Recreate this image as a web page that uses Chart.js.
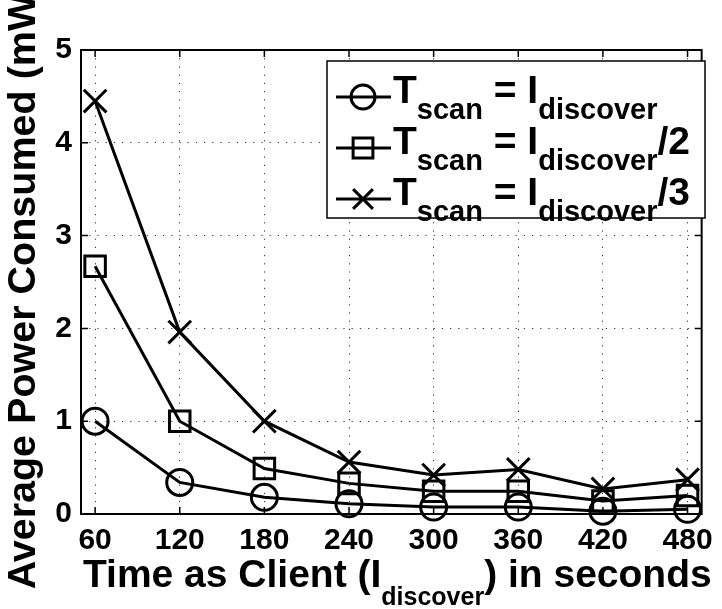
<!DOCTYPE html>
<html>
<head>
<meta charset="utf-8">
<script src="https://cdn.jsdelivr.net/npm/chart.js@4.4.1/dist/chart.umd.min.js"></script>
<style>
  html, body { margin: 0; padding: 0; background: #fff; }
  #wrap { width: 722px; height: 609px; position: relative; }
</style>
</head>
<body>
<div id="wrap"><canvas id="c" width="722" height="609"></canvas></div>
<script>
// ---- data ----
const categories = [60, 120, 180, 240, 300, 360, 420, 480];
const seriesFull  = [1.0, 0.34, 0.18, 0.11, 0.075, 0.075, 0.03, 0.05];
const seriesHalf  = [2.67, 1.0, 0.49, 0.33, 0.245, 0.245, 0.14, 0.2];
const seriesThird = [4.45, 1.96, 1.0, 0.56, 0.42, 0.48, 0.27, 0.37];
const seriesLabels = ['T_scan = I_discover', 'T_scan = I_discover/2', 'T_scan = I_discover/3'];
const yTicks = [0, 1, 2, 3, 4, 5];
const xTitle = 'Time as Client (I_discover) in seconds';
const yTitle = 'Average Power Consumed (mW)';

const FONT = '"Liberation Sans", Arial, Helvetica, sans-serif';

// parse strings where "_word" marks a subscript word
function parseParts(s) {
  const parts = [];
  const re = /_([A-Za-z]+)/g;
  let last = 0, m;
  while ((m = re.exec(s)) !== null) {
    if (m.index > last) parts.push({ t: s.slice(last, m.index), sub: false });
    parts.push({ t: m[1], sub: true });
    last = re.lastIndex;
  }
  if (last < s.length) parts.push({ t: s.slice(last), sub: false });
  return parts;
}
function drawRich(ctx, s, x, y, mainSize, subSize, subDrop, align) {
  const parts = parseParts(s);
  let total = 0;
  parts.forEach(p => {
    ctx.font = 'bold ' + (p.sub ? subSize : mainSize) + 'px ' + FONT;
    p.w = ctx.measureText(p.t).width;
    total += p.w;
  });
  let cx = align === 'center' ? x - total / 2 : x;
  ctx.textAlign = 'left';
  ctx.textBaseline = 'alphabetic';
  parts.forEach(p => {
    ctx.font = 'bold ' + (p.sub ? subSize : mainSize) + 'px ' + FONT;
    ctx.fillText(p.t, cx, p.sub ? y + subDrop : y);
    cx += p.w;
  });
}
function drawMarker(ctx, style, x, y, r) {
  ctx.beginPath();
  if (style === 'circle') {
    ctx.arc(x, y, r, 0, Math.PI * 2);
  } else if (style === 'rect') {
    const h = r * Math.SQRT1_2;
    ctx.rect(x - h, y - h, 2 * h, 2 * h);
  } else {
    const h = r * Math.SQRT1_2;
    ctx.moveTo(x - h, y - h); ctx.lineTo(x + h, y + h);
    ctx.moveTo(x - h, y + h); ctx.lineTo(x + h, y - h);
  }
  ctx.stroke();
}

const decor = {
  id: 'decor',
  afterDraw(chart) {
    const ctx = chart.ctx;
    const a = chart.chartArea;
    const xs = chart.scales.x, ys = chart.scales.y;
    ctx.save();
    ctx.strokeStyle = '#000';
    ctx.fillStyle = '#000';
    // axes box
    ctx.lineWidth = 2;
    ctx.strokeRect(a.left, a.top, a.right - a.left, a.bottom - a.top);
    // inward tick marks
    ctx.lineWidth = 1.5;
    ctx.beginPath();
    xs.ticks.forEach(t => {
      const px = xs.getPixelForValue(t.value);
      ctx.moveTo(px, a.bottom); ctx.lineTo(px, a.bottom - 7);
      ctx.moveTo(px, a.top); ctx.lineTo(px, a.top + 7);
    });
    ys.ticks.forEach(t => {
      const py = ys.getPixelForValue(t.value);
      ctx.moveTo(a.left, py); ctx.lineTo(a.left + 7, py);
      ctx.moveTo(a.right, py); ctx.lineTo(a.right - 7, py);
    });
    ctx.stroke();
    // x title
    drawRich(ctx, xTitle, (a.left + a.right) / 2 + 6, 587, 39, 25, 18, 'center');
    // y title (rotated)
    ctx.save();
    ctx.translate(35, (a.top + a.bottom) / 2 + 3);
    ctx.rotate(-Math.PI / 2);
    ctx.font = 'bold 39.5px ' + FONT;
    ctx.textAlign = 'center';
    ctx.textBaseline = 'alphabetic';
    ctx.fillText(yTitle, 0, 0);
    ctx.restore();
    // legend
    const lx = 327, ly = 61, lw = 378, lh = 157;
    ctx.fillStyle = '#fff';
    ctx.fillRect(lx, ly, lw, lh);
    ctx.lineWidth = 1.5;
    ctx.strokeStyle = '#000';
    ctx.strokeRect(lx, ly, lw, lh);
    ctx.fillStyle = '#000';
    chart.data.datasets.forEach((ds, i) => {
      const rowY = ly + 36 + i * 51;
      ctx.lineWidth = 3;
      ctx.beginPath();
      ctx.moveTo(lx + 9, rowY); ctx.lineTo(lx + 64, rowY);
      ctx.stroke();
      drawMarker(ctx, ds.pointStyle, lx + 36, rowY, ds.pointStyle === 'circle' ? 12 : 14);
      drawRich(ctx, ds.label, lx + 66, rowY + 6, 39, 29, 16, 'left');
    });
    ctx.restore();
  }
};

const common = {
  borderColor: '#000',
  backgroundColor: 'rgba(0,0,0,0)',
  borderWidth: 3,
  pointBorderWidth: 3,
  pointBorderColor: '#000',
  pointBackgroundColor: 'rgba(0,0,0,0)',
  tension: 0,
  clip: false
};

const gridOpts = { color: '#333', lineWidth: 1, drawTicks: false };
const borderOpts = { display: false, dash: [1.2, 7] };

new Chart(document.getElementById('c'), {
  type: 'line',
  data: {
    datasets: [
      Object.assign({ label: seriesLabels[0], data: categories.map((x, i) => ({ x, y: seriesFull[i] })), pointStyle: 'circle', pointRadius: 13 }, common),
      Object.assign({ label: seriesLabels[1], data: categories.map((x, i) => ({ x, y: seriesHalf[i] })), pointStyle: 'rect', pointRadius: 14.5 }, common),
      Object.assign({ label: seriesLabels[2], data: categories.map((x, i) => ({ x, y: seriesThird[i] })), pointStyle: 'crossRot', pointRadius: 16 }, common)
    ]
  },
  options: {
    responsive: false,
    animation: false,
    events: [],
    layout: { padding: { top: 50, right: 15, left: 0, bottom: 0 } },
    plugins: { legend: { display: false }, tooltip: { enabled: false } },
    scales: {
      x: {
        type: 'linear',
        min: 50, max: 490,
        afterBuildTicks(s) { s.ticks = categories.map(v => ({ value: v })); },
        afterFit(s) { s.height = 95; },
        grid: gridOpts,
        border: borderOpts,
        ticks: { color: '#000', font: { family: FONT, size: 30, weight: 'bold' }, padding: 9, maxRotation: 0, autoSkip: false }
      },
      y: {
        type: 'linear',
        min: 0, max: 5,
        afterBuildTicks(s) { s.ticks = yTicks.map(v => ({ value: v })); },
        afterFit(s) { s.width = 81; },
        grid: gridOpts,
        border: borderOpts,
        ticks: { color: '#000', font: { family: FONT, size: 30, weight: 'bold' }, padding: 9 }
      }
    }
  },
  plugins: [decor]
});
</script>
</body>
</html>
